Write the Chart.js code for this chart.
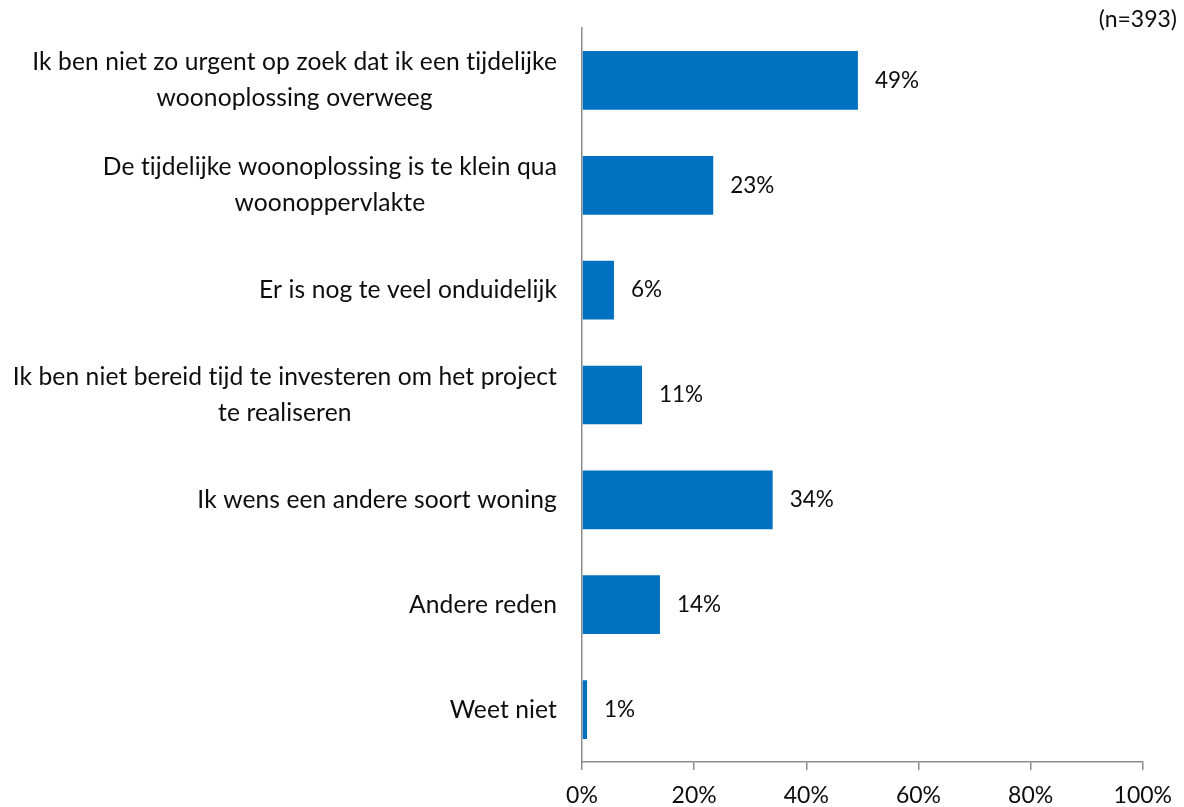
<!DOCTYPE html>
<html>
<head>
<meta charset="utf-8">
<script src="https://cdn.jsdelivr.net/npm/chart.js@4.4.1/dist/chart.umd.min.js"></script>
<style>
    body { margin: 0; background: #fff; }
    #wrap { width: 1184px; height: 807px; }
</style>
</head>
<body>
<div id="wrap"><canvas id="myChart" width="1184" height="807"></canvas></div>
<script>
// categorieen (elke regel apart, zoals in het origineel)
const categorieen = [
    ["Ik ben niet zo urgent op zoek dat ik een tijdelijke", "woonoplossing overweeg"],
    ["De tijdelijke woonoplossing is te klein qua", "woonoppervlakte"],
    ["Er is nog te veel onduidelijk"],
    ["Ik ben niet bereid tijd te investeren om het project", "te realiseren"],
    ["Ik wens een andere soort woning"],
    ["Andere reden"],
    ["Weet niet"]
];
const percentages = [49.2, 23.4, 5.7, 10.7, 34.0, 13.9, 0.9];
const labelsWaarde = ["49%", "23%", "6%", "11%", "34%", "14%", "1%"];
const xTicks = [0, 20, 40, 60, 80, 100];
const steekproef = "(n=393)";

const fontFam = "Lato, 'Open Sans', sans-serif";
const tekstKleur = "#0d0d0d";
const asKleur = "#8c8c8c";

// labels links van de as, per label als blok rechts uitgelijnd, regels gecentreerd
const categoryLabels = {
    id: 'categoryLabels',
    afterDraw(chart) {
        const ctx = chart.ctx;
        const yScale = chart.scales.y;
        const rechts = chart.chartArea.left - 25;
        const lh = 36;
        ctx.save();
        ctx.font = `24.6px ${fontFam}`;
        // kleine spatiering zodat de "ti"-ligatuur van Lato wegblijft
        ctx.letterSpacing = '0.1px';
        ctx.fillStyle = tekstKleur;
        ctx.textAlign = 'center';
        ctx.textBaseline = 'middle';
        categorieen.forEach((regels, i) => {
            const y = yScale.getPixelForTick(i);
            const breedte = Math.max(...regels.map(r => ctx.measureText(r).width));
            const midden = rechts - breedte / 2;
            const start = y - (regels.length - 1) * lh / 2;
            regels.forEach((r, j) => ctx.fillText(r, midden, start + j * lh));
        });
        ctx.restore();
    }
};

const valueLabels = {
    id: 'valueLabels',
    afterDatasetsDraw(chart) {
        const ctx = chart.ctx;
        const meta = chart.getDatasetMeta(0);
        ctx.save();
        ctx.font = `22.5px ${fontFam}`;
        ctx.fillStyle = tekstKleur;
        ctx.textAlign = 'left';
        ctx.textBaseline = 'middle';
        meta.data.forEach((bar, i) => {
            ctx.fillText(labelsWaarde[i], bar.x + 17, bar.y);
        });
        ctx.font = `23px ${fontFam}`;
        ctx.textAlign = 'right';
        ctx.fillText(steekproef, chart.width - 7, 20);
        ctx.restore();
    }
};

const ctx = document.getElementById('myChart').getContext('2d');
const chart = new Chart(ctx, {
    type: 'bar',
    data: {
        labels: categorieen.map(c => c.join(' ')),
        datasets: [{
            data: percentages,
            backgroundColor: '#0070C0',
            borderWidth: 0,
            categoryPercentage: 1,
            barPercentage: 0.56
        }]
    },
    options: {
        indexAxis: 'y',
        responsive: false,
        animation: false,
        layout: { padding: { top: 28, right: 41, left: 0, bottom: 0 } },
        plugins: {
            legend: { display: false },
            tooltip: { enabled: false }
        },
        scales: {
            x: {
                min: 0,
                max: 100,
                afterBuildTicks: (scale) => { scale.ticks = xTicks.map(v => ({ value: v })); },
                afterFit: (scale) => { scale.height = 45; },
                ticks: {
                    callback: v => v + '%',
                    color: tekstKleur,
                    font: { family: fontFam, size: 23 },
                    padding: 12,
                    maxRotation: 0
                },
                grid: {
                    drawOnChartArea: false,
                    drawTicks: true,
                    tickLength: 8,
                    color: asKleur,
                    lineWidth: 1.5
                },
                border: { color: asKleur, width: 1.5 }
            },
            y: {
                afterFit: (scale) => { scale.width = 582; },
                ticks: { display: false },
                grid: { display: false },
                border: { color: asKleur, width: 1.5 }
            }
        }
    },
    plugins: [categoryLabels, valueLabels]
});
</script>
</body>
</html>
